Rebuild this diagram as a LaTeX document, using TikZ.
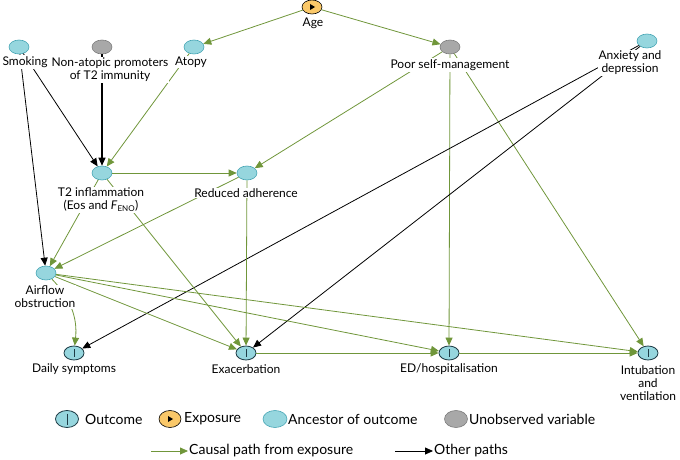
\documentclass[tikz,border=0pt]{standalone}
\usepackage{fontspec}
\setmainfont{Lato}
\usetikzlibrary{arrows.meta,shapes.geometric}

\definecolor{pathgreen}{RGB}{112,150,58}
\definecolor{ancfill}{RGB}{150,214,222}
\definecolor{ancdraw}{RGB}{70,165,180}
\definecolor{unobsfill}{RGB}{168,168,168}
\definecolor{unobsdraw}{RGB}{125,125,125}
\definecolor{expfill}{RGB}{250,200,105}
\definecolor{outdraw}{RGB}{30,60,70}

\begin{document}
\begin{tikzpicture}[x=1pt,y=-1pt,
  var/.style={ellipse,draw,line width=0.6pt,minimum width=20pt,minimum height=14pt,inner sep=0pt},
  ancestor/.style={var,fill=ancfill,draw=ancdraw},
  unobs/.style={var,fill=unobsfill,draw=unobsdraw},
  exposure/.style={var,fill=expfill,draw=black,
    path picture={\fill[black] ([xshift=-2pt,yshift=3pt]path picture bounding box.center) -- ++(5pt,-3pt) -- ++(-5pt,-3pt) -- cycle;}},
  outcome/.style={var,fill=ancfill,draw=outdraw,line width=0.8pt,
    path picture={\draw[outdraw,line width=0.9pt] ([yshift=-3pt]path picture bounding box.north) -- ([yshift=3pt]path picture bounding box.south);}},
  lbl/.style={fill=white,inner sep=1pt,align=center,font=\fontsize{12}{14}\selectfont},
  key/.style={inner sep=1pt,anchor=west,font=\fontsize{14}{16}\selectfont},
  causal/.style={pathgreen,line width=0.8pt,-{Triangle[length=8pt,width=7pt]}},
  other/.style={black,line width=0.8pt,-{Triangle[length=8pt,width=7pt]}}]
  \useasboundingbox (0,0) rectangle (680,460);

  % variables
  \node[exposure] (age) at (312,7) {};
  \node[ancestor] (smoking) at (19,47) {};
  \node[unobs] (nonatopic) at (102,47) {};
  \node[ancestor] (atopy) at (194,47) {};
  \node[unobs] (selfman) at (450,47) {};
  \node[ancestor] (anxiety) at (647,41) {};
  \node[ancestor] (t2) at (102,173) {};
  \node[ancestor] (adherence) at (247,173) {};
  \node[ancestor] (airflow) at (46,273) {};
  \node[outcome] (daily) at (74,353) {};
  \node[outcome] (exac) at (246,353) {};
  \node[outcome] (edhosp) at (449,353) {};
  \node[outcome] (intub) at (648,353) {};

  % paths
  \draw[causal] (age) -- (atopy);
  \draw[causal] (age) -- (selfman);
  \draw[other] (smoking) -- (t2);
  \draw[other] (smoking) -- (airflow);
  \draw[other,line width=1.2pt] (nonatopic) -- (t2);
  \draw[causal] (atopy) -- (t2);
  \draw[causal] (t2) -- (adherence);
  \draw[causal] (selfman) -- (adherence);
  \draw[causal] (selfman) -- (edhosp);
  \draw[causal] (selfman) -- (intub);
  \draw[other] (anxiety) -- (daily);
  \draw[other] (anxiety) -- (exac);
  \draw[causal] (t2) -- (airflow);
  \draw[causal] (t2) -- (exac);
  \draw[causal] (adherence) -- (airflow);
  \draw[causal] (adherence) -- (exac);
  \draw[causal] (airflow) to[bend left=25] (daily);
  \draw[causal] (airflow) -- (exac);
  \draw[causal] (airflow) -- (edhosp);
  \draw[causal] (airflow) -- (intub);
  \draw[causal] (exac) -- (edhosp);
  \draw[causal] (edhosp) -- (intub);

  % labels
  \node[lbl] (ageL) at (313,23) {Age};
  \node[lbl] (smokingL) at (25,62) {Smoking};
  \node[lbl] (nonatopicL) at (110,70) {Non-atopic promoters\\[-1pt]of T2 immunity};
  \node[lbl] (atopyL) at (191,62) {Atopy};
  \node[lbl] (selfmanL) at (450,65) {Poor self-management};
  \node[lbl] (anxietyL) at (630,63) {Anxiety and\\[-1pt]depression};
  \node[lbl] (t2L) at (101,200) {T2 inflammation\\[-1pt](Eos and \textit{F}\textsubscript{ENO})};
  \node[lbl] (adherenceL) at (246,193) {Reduced adherence};
  \node[lbl] (airflowL) at (45,297) {Airflow\\[-1pt]obstruction};
  \node[lbl] (dailyL) at (74,369) {Daily symptoms};
  \node[lbl] (exacL) at (246,369) {Exacerbation};
  \node[lbl] (edhospL) at (449,369) {ED/hospitalisation};
  \node[lbl] (intubL) at (648,383) {Intubation\\[-1pt]and\\[-1pt]ventilation};

  % legend
  \node[outcome,minimum width=23pt,minimum height=17pt] (kout) at (67,419) {};
  \node[key] (koutL) at (84,419) {Outcome};
  \node[exposure,minimum width=22pt,minimum height=17pt] (kexp) at (170,419) {};
  \node[key] (kexpL) at (183,419) {Exposure};
  \node[ancestor,minimum width=24pt,minimum height=17pt] (kanc) at (275,419) {};
  \node[key] (kancL) at (287,419) {Ancestor of outcome};
  \node[unobs,minimum width=23pt,minimum height=17pt] (kuno) at (456,419) {};
  \node[key] (kunoL) at (468,419) {Unobserved variable};
  \coordinate (kc1) at (151,451);
  \node[key] (kcausalL) at (188,451) {Causal path from exposure};
  \draw[causal] (kc1) -- (kcausalL.west);
  \coordinate (ko1) at (395,451);
  \node[key] (kotherL) at (433,451) {Other paths};
  \draw[other] (ko1) -- (kotherL.west);
\end{tikzpicture}
\end{document}
